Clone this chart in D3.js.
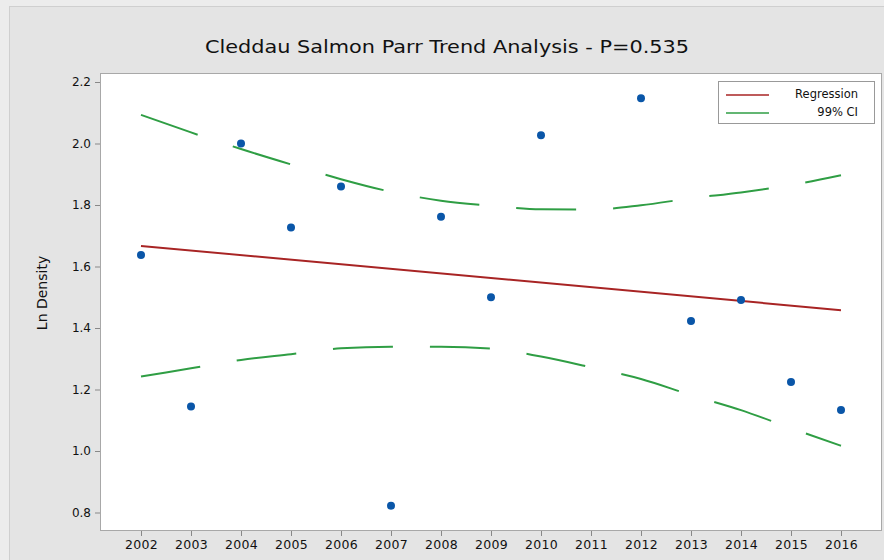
<!DOCTYPE html>
<html>
<head>
<meta charset="utf-8">
<script src="https://d3js.org/d3.v7.min.js"></script>
<style>
  body { margin: 0; background: #e4e4e4; }
  svg { display: block; }
  text { font-family: "DejaVu Sans", sans-serif; fill: #111; }
</style>
</head>
<body>
<svg id="chart" width="884" height="560"></svg>
<script>
// data
var years = [2002, 2003, 2004, 2005, 2006, 2007, 2008, 2009, 2010, 2011, 2012, 2013, 2014, 2015, 2016];
var pointYears = [2002, 2003, 2004, 2005, 2006, 2007, 2008, 2009, 2010, 2012, 2013, 2014, 2015, 2016];
var lnDensity = [1.637, 1.145, 2.00, 1.727, 1.860, 0.822, 1.762, 1.500, 2.027, 2.147, 1.423, 1.491, 1.224, 1.133];
var regYears = [2002, 2016];
var regValues = [1.667, 1.458];
var ciUpper = [2.093, 2.036, 1.982, 1.932, 1.884, 1.843, 1.814, 1.798, 1.786, 1.785, 1.799, 1.822, 1.841, 1.865, 1.897];
var ciLower = [1.242, 1.269, 1.296, 1.315, 1.334, 1.339, 1.339, 1.333, 1.307, 1.272, 1.234, 1.182, 1.133, 1.074, 1.017];
var yTicks = [0.8, 1.0, 1.2, 1.4, 1.6, 1.8, 2.0, 2.2];

var svg = d3.select("#chart");

// outer panel frame
svg.append("rect").attr("x", 0).attr("y", 0).attr("width", 884).attr("height", 560).attr("fill", "#ececec");
svg.append("rect").attr("x", 9.5).attr("y", 6.5).attr("width", 880).attr("height", 560)
  .attr("fill", "#e4e4e4").attr("stroke", "#cfcfcf");

var plot = {left: 100, top: 73, right: 881, bottom: 530};

svg.append("rect")
  .attr("x", plot.left + 0.5).attr("y", plot.top + 0.5)
  .attr("width", plot.right - plot.left).attr("height", plot.bottom - plot.top)
  .attr("fill", "#fff").attr("stroke", "#a8a8a8");

var x = d3.scaleLinear().domain([2002, 2016]).range([141, 841]);
var y = d3.scaleLinear().domain([0.8, 2.2]).range([512.5, 82]);

// axes
var xAxis = d3.axisBottom(x).tickValues(years).tickFormat(d3.format("d")).tickSize(5).tickPadding(4);
var gx = svg.append("g").attr("transform", "translate(0," + (plot.bottom + 1) + ")").call(xAxis);
gx.select(".domain").remove();
gx.selectAll("line").attr("stroke", "#888");
gx.selectAll("text").style("font-size", "12.5px").attr("letter-spacing", "0.3px").attr("fill", "#111");

var yAxis = d3.axisLeft(y).tickValues(yTicks).tickFormat(d3.format(".1f")).tickSize(5).tickPadding(4);
var gy = svg.append("g").attr("transform", "translate(" + plot.left + ",0)").call(yAxis);
gy.select(".domain").remove();
gy.selectAll("line").attr("stroke", "#888");
gy.selectAll("text").style("font-size", "12px").attr("fill", "#111");

// title
svg.append("text")
  .attr("x", 447).attr("y", 53)
  .attr("text-anchor", "middle")
  .style("font-size", "18.5px")
  .attr("textLength", 484).attr("lengthAdjust", "spacingAndGlyphs")
  .text("Cleddau Salmon Parr Trend Analysis - P=0.535");

// y label
svg.append("text")
  .attr("transform", "translate(47,293) rotate(-90)")
  .attr("text-anchor", "middle")
  .style("font-size", "14px")
  .text("Ln Density");

// CI lines
var ciLine = d3.line()
  .x(function(d, i) { return x(years[i]); })
  .y(function(d) { return y(d); })
  .curve(d3.curveMonotoneX);

[ciUpper, ciLower].forEach(function(series) {
  svg.append("path")
    .attr("d", ciLine(series))
    .attr("fill", "none")
    .attr("stroke", "#2f9e44")
    .attr("stroke-width", 2)
    .attr("stroke-dasharray", "60,37");
});

// regression line
svg.append("path")
  .attr("d", d3.line()
    .x(function(d, i) { return x(regYears[i]); })
    .y(function(d) { return y(d); })(regValues))
  .attr("fill", "none")
  .attr("stroke", "#a82424")
  .attr("stroke-width", 2);

// points
svg.append("g").selectAll("circle")
  .data(lnDensity)
  .enter().append("circle")
  .attr("cx", function(d, i) { return x(pointYears[i]); })
  .attr("cy", function(d) { return y(d); })
  .attr("r", 4)
  .attr("fill", "#0a56a8");

// legend
var lg = svg.append("g");
lg.append("rect").attr("x", 718.5).attr("y", 81.5).attr("width", 156).attr("height", 42)
  .attr("fill", "#fff").attr("stroke", "#999");
lg.append("line").attr("x1", 726).attr("x2", 769).attr("y1", 95).attr("y2", 95)
  .attr("stroke", "#a82424").attr("stroke-width", 1.5);
lg.append("line").attr("x1", 726).attr("x2", 769).attr("y1", 113).attr("y2", 113)
  .attr("stroke", "#2f9e44").attr("stroke-width", 1.5);
lg.append("text").attr("x", 858).attr("y", 98).attr("text-anchor", "end")
  .style("font-size", "11.5px").text("Regression");
lg.append("text").attr("x", 858).attr("y", 116).attr("text-anchor", "end")
  .style("font-size", "11.5px").text("99% CI");
</script>
</body>
</html>
